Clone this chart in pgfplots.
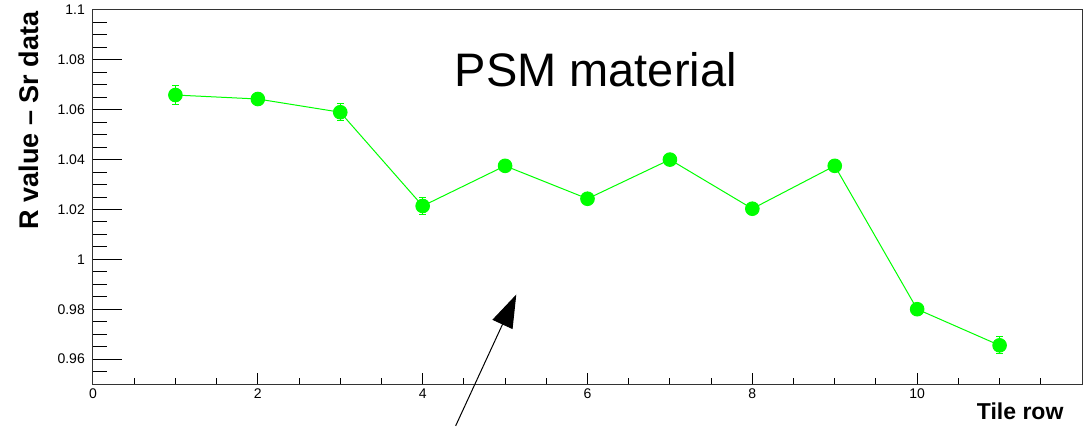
\documentclass[border=0pt]{standalone}
\usepackage{pgfplots}
\pgfplotsset{compat=1.18}
\usepackage{fontspec}
\setmainfont{Liberation Sans}
\usetikzlibrary{arrows.meta}
\definecolor{rootgreen}{RGB}{0,255,0}
\begin{document}
\begin{tikzpicture}
\useasboundingbox (-93pt,-42pt) rectangle (993pt,384pt);
\begin{axis}[
  at={(0,0)}, anchor=south west,
  scale only axis, width=989pt, height=374pt,
  xmin=0, xmax=12, ymin=0.95, ymax=1.1,
  axis line style={black!80, line width=1pt},
  xtick pos=bottom, ytick pos=left,
  tick align=inside,
  xtick={0,2,4,6,8,10,12}, xticklabels={0,2,4,6,8,10,},
  minor xtick={0.5,1,1.5,2.5,3,3.5,4.5,5,5.5,6.5,7,7.5,8.5,9,9.5,10.5,11,11.5},
  ytick={0.96,0.98,1,1.02,1.04,1.06,1.08,1.1},
  minor ytick={0.955,0.965,0.97,0.975,0.985,0.99,0.995,1.005,1.01,1.015,1.025,1.03,1.035,1.045,1.05,1.055,1.065,1.07,1.075,1.085,1.09,1.095},
  /pgf/number format/assume math mode=true,
  yticklabel={\pgfmathprintnumber[fixed,precision=2]{\tick}},
  tick label style={font=\fontsize{14}{16}\selectfont},
  yticklabel style={inner sep=0pt, xshift=-8pt},
  xticklabel style={inner sep=0pt, yshift=-5pt},
  major tick length=29pt, minor tick length=14pt,
  x tick style={/pgfplots/major tick length=11pt, /pgfplots/minor tick length=6pt},
  tick style={black, line width=1pt},
  ylabel={R value -- Sr data},
  ylabel style={at={(axis description cs:-0.0556,1.0053)}, anchor=base east, font=\fontsize{27}{30}\selectfont\bfseries},
  xlabel={Tile row},
  xlabel style={at={(axis description cs:0.9848,-0.0936)}, anchor=base east, font=\fontsize{23}{26}\selectfont\bfseries},
  clip=false,
]
\addplot[color=rootgreen, line width=1pt, mark=*, mark size=6.8pt,
  mark options={fill=rootgreen, draw=rootgreen},
  error bars/.cd, y dir=both, y explicit,
  error bar style={rootgreen, line width=1pt},
  error mark options={rootgreen, rotate=90, mark size=3.3pt, line width=1pt}]
coordinates {
 (1,1.0659) +- (0,0.0037)
 (2,1.0643) +- (0,0.0015)
 (3,1.0590) +- (0,0.0034)
 (4,1.0214) +- (0,0.0034)
 (5,1.0375) +- (0,0.0022)
 (6,1.0243) +- (0,0.0018)
 (7,1.0400) +- (0,0.0024)
 (8,1.0203) +- (0,0.0022)
 (9,1.0375) +- (0,0.0022)
 (10,0.9800) +- (0,0.0015)
 (11,0.9655) +- (0,0.0034)
};
\node[anchor=base, font=\fontsize{47}{52}\selectfont] at (axis cs:6.1,1.0692) {PSM material};
\draw[-{Triangle[length=33pt,width=22pt]}, line width=1pt, black] (axis cs:4.4,0.9332) -- (axis cs:5.136,0.9859);
\end{axis}
\end{tikzpicture}
\end{document}
